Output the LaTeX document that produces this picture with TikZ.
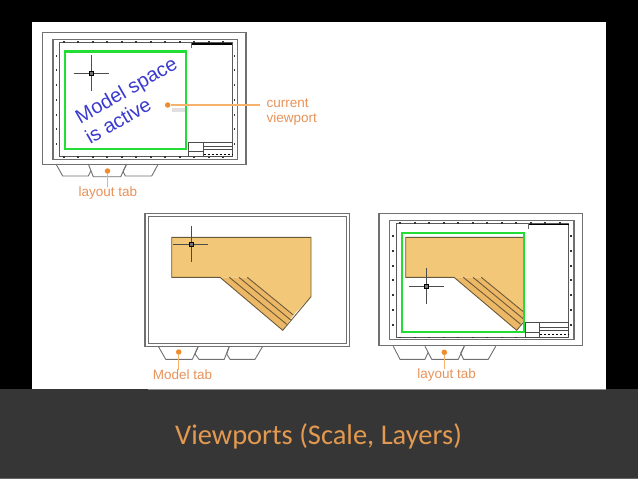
\documentclass[tikz,border=0pt]{standalone}
\usepackage{fontspec}
\setmainfont{Liberation Sans}
\newfontfamily\titlefont{Carlito}
\definecolor{frame}{HTML}{707070}
\definecolor{green1}{HTML}{22DD33}
\definecolor{orange1}{HTML}{F08C2C}
\definecolor{leader}{HTML}{F5B26B}
\definecolor{labeltext}{HTML}{E8935A}
\definecolor{fill1}{HTML}{F2C878}
\definecolor{fill2}{HTML}{EDB866}
\definecolor{edge1}{HTML}{6B5A38}
\definecolor{bluetext}{HTML}{3A3AD0}
\definecolor{bar}{HTML}{363636}
\definecolor{titlecol}{HTML}{E3994F}
\tikzset{
  x=1pt,y=-1pt,
  sheetline/.style={draw=frame,line width=1.3pt},
  tabline/.style={draw=frame,line width=.9pt,line join=round},
  greenbox/.style={draw=green1,line width=2.1pt},
  hair/.style={draw=black!70,line width=.9pt},
  dotnode/.style={circle,fill=orange1,inner sep=0pt,minimum size=5.5pt},
  leaderline/.style={draw=leader,line width=1.1pt},
  calltext/.style={text=labeltext,font=\fontsize{13.5}{15}\selectfont,inner sep=0pt},
  bluelabel/.style={text=bluetext,font=\fontsize{20}{22}\selectfont,inner sep=0pt,rotate=30,draw=none},
  part/.style={draw=edge1,line width=.9pt,line join=miter},
  sheet/.pic={
    \draw[sheetline] (0,0) rectangle (203.5,132);
    \draw[sheetline] (10.5,7) rectangle (195,126.5);
    \draw[draw=black!65,line width=.9pt] (17,9.7) rectangle (189.5,124);
    \foreach \t in {0,...,11}{
      \fill[black!80] (20+\t*14.5,8.7) rectangle +(2,1.6);
      \fill[black!80] (20+\t*14.5,123.2) rectangle +(2,1.6);
    }
    \foreach \t in {0,...,6}{
      \fill[black!80] (13.3,22+\t*14.7) rectangle +(1.6,2);
      \fill[black!80] (191.2,22+\t*14.7) rectangle +(1.6,2);
    }
    \draw[draw=black,line width=1.3pt] (149,11.3) -- (189.5,11.3);
    \draw[draw=black!60,line width=.5pt] (149,10) -- (149,15.5);
    \draw[draw=black!70,line width=.7pt] (146,109.5) rectangle (189.5,124);
    \draw[draw=black!70,line width=.7pt] (160.5,109.5) -- (160.5,124);
    \draw[draw=black!70,line width=.5pt] (160.5,113.5) -- (189.5,113.5) (160.5,117) -- (189.5,117) (146,119) -- (160.5,119);
    \draw[draw=black,line width=.8pt,dash pattern=on 2pt off 2pt] (161,121.5) -- (189.5,121.5);
  }
}
\newcommand{\crosshair}[2]{%
  \draw[hair] (#1-18,#2) -- (#1+17,#2) (#1,#2-18) -- (#1,#2+17.5);
  \draw[draw=black,fill=black!55,line width=.5pt] (#1-2,#2-2) rectangle (#1+2,#2+2);
}
\begin{document}
\begin{tikzpicture}
\useasboundingbox (0,0) rectangle (638,479);
\fill[black] (0,0) rectangle (638,479);
\fill[white] (32,21.5) rectangle (606,389);
\fill[bar] (0,389) rectangle (638,478);
\fill[black!60] (0,478) rectangle (638,479);
\draw[black!45,line width=.6pt] (148,389) -- (606,389);

% ---------- top sheet ----------
\pic at (42.5,32.7) {sheet};
\draw[tabline] (56,164) -- (62.7,176) -- (88.3,176) -- (91,170.7);
\draw[tabline] (88.3,164) -- (93.3,176.7) -- (120.7,176.7) -- (126.7,164);
\draw[tabline] (126.7,164) -- (123,171.5) -- (125.3,176) -- (151.7,176) -- (158.3,164);
\fill[black!12] (172,108) rectangle (186,112);
\draw[greenbox] (65,51.5) rectangle (186,149);
\crosshair{91.7}{73.3}
\node[bluelabel] (ms) at (127,91.5) {Model space};
\node[bluelabel] (ia) at (118,120.5) {is active};
\node[dotnode] (d1) at (167.7,105) {};
\coordinate (e1) at (260,105);
\draw[leaderline] (d1) -- (e1);
\node[calltext,anchor=west,align=left] (cv) at (266.5,112) {current\\[.4pt]viewport};
\node[dotnode] (d2) at (107.5,171) {};
\node[calltext] (lt1) at (108,193.5) {layout tab};
\draw[leaderline] (d2) -- (lt1.north -| d2);

% ---------- middle sheet ----------
\draw[sheetline] (145,213.3) rectangle (349.3,346.3);
\draw[sheetline] (148.3,216.7) rectangle (346.7,343.3);
\draw[tabline] (158.3,346.3) -- (165.7,359.3) -- (192.3,359.3) -- (198.3,346.3);
\draw[tabline] (198.3,346.3) -- (195,354) -- (199,359.3) -- (224.3,359.3) -- (229.3,346.3);
\draw[tabline] (229.3,346.3) -- (226.7,354) -- (230,359.3) -- (255,359.3) -- (262.7,346.3);
\fill[fill2] (220,277.3) -- (247.3,277.3) -- (293.3,315) -- (282.7,330.3) -- cycle;
\path[fill=fill1] (171.7,237.3) -- (311,237.3) -- (311,296.7) -- (293.3,315) -- (247.3,277.3) -- (171.7,277.3) -- cycle;
\draw[part] (171.7,237.3) -- (311,237.3) -- (311,296.7) -- (282.7,330.3) -- (220,277.3) -- (171.7,277.3) -- cycle;
\draw[part] (247.3,277.3) -- (293.3,315) (239,277.3) -- (290.7,320) (229.3,277.3) -- (286.7,324.3);
\crosshair{191.3}{244}
\node[dotnode] (d3) at (178.7,352) {};
\node[calltext] (mt) at (182.5,375) {Model tab};
\draw[leaderline] (d3) -- (mt.north -| d3);

% ---------- right sheet ----------
\pic at (379,213.3) {sheet};
\draw[tabline] (393.3,346.3) -- (400,359.3) -- (425,359.3) -- (428,352.5);
\draw[tabline] (425,346.3) -- (431.7,359.3) -- (458.3,359.3) -- (464.3,346.3);
\draw[tabline] (464.3,346.3) -- (460.7,353) -- (463.5,359.3) -- (488.3,359.3) -- (495.7,346.3);
\begin{scope}
  \clip (401.7,232.7) rectangle (524.3,331.7);
  \fill[fill2] (454,277.3) -- (481.3,277.3) -- (527.3,315) -- (516.7,330.3) -- cycle;
  \path[fill=fill1] (405.7,237.3) -- (545,237.3) -- (545,296.7) -- (527.3,315) -- (481.3,277.3) -- (405.7,277.3) -- cycle;
  \draw[part] (405.7,237.3) -- (545,237.3) -- (545,296.7) -- (516.7,330.3) -- (454,277.3) -- (405.7,277.3) -- cycle;
  \draw[part] (481.3,277.3) -- (527.3,315) (473,277.3) -- (524.7,320) (463.3,277.3) -- (520.7,324.3);
\end{scope}
\draw[greenbox] (401.7,232.7) rectangle (524.3,331.7);
\crosshair{426.7}{286}
\node[dotnode] (d4) at (444.3,352.3) {};
\node[calltext] (lt2) at (446.7,375.5) {layout tab};
\draw[leaderline] (d4) -- (lt2.north -| d4);

% ---------- caption ----------
\node[text=titlecol,font=\titlefont\fontsize{28.5}{32}\selectfont,inner sep=0pt] (cap) at (318.5,436) {Viewports (Scale, Layers)};
\end{tikzpicture}
\end{document}
